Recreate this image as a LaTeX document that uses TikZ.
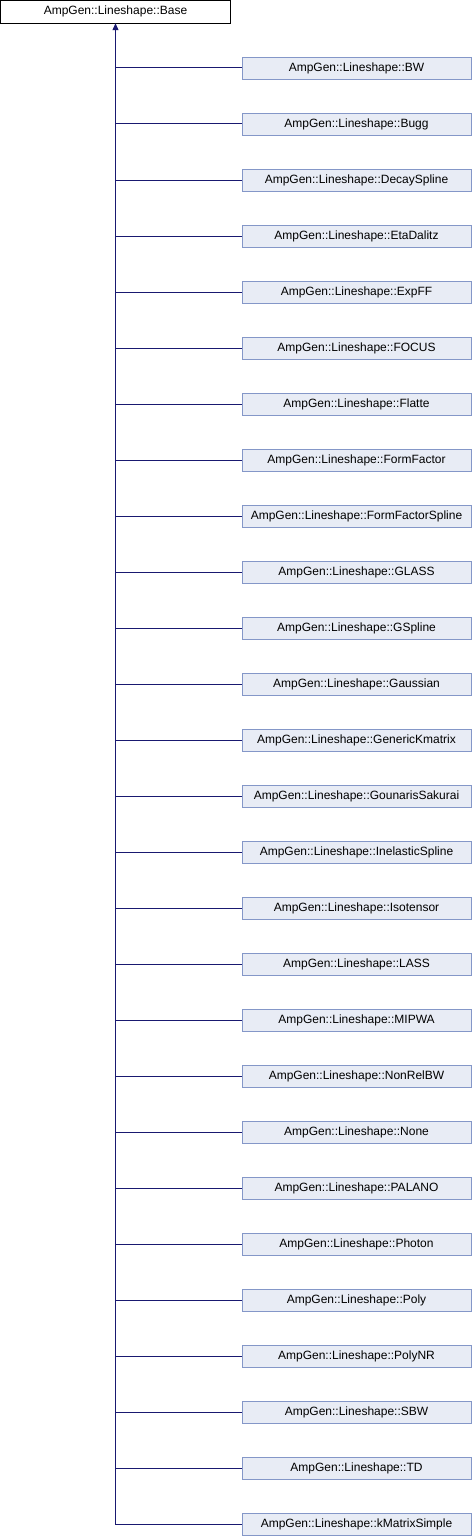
\documentclass[tikz,border=0pt]{standalone}
\usepackage{fontspec}
\setmainfont{Liberation Sans}
\usepackage{xcolor}
\usetikzlibrary{arrows.meta, positioning}

\definecolor{edgeblue}{RGB}{25,25,112}
\definecolor{boxfill}{RGB}{232,236,245}
\definecolor{boxline}{RGB}{132,151,200}

\begin{document}
\begin{tikzpicture}[x=1pt, y=-1pt, >={Triangle[length=7pt, width=6pt]},
    base-node/.style={rectangle, draw=black, fill=white, minimum width=230pt, minimum height=23pt,
                inner sep=0pt, font=\fontsize{12}{14}\selectfont},
    class-node/.style={rectangle, draw=boxline, fill=boxfill, minimum width=229.5pt, minimum height=22pt,
                inner sep=0pt, font=\fontsize{12}{14}\selectfont},
    inherit/.style={draw=edgeblue, line width=1pt}]
    \useasboundingbox (0,0) rectangle (472,1536);
    \node [base-node] (base) at (115.5,11.5) {AmpGen::Lineshape::Base};
    % derived classes
    \node [class-node] (bw) at (356.5,68) {AmpGen::Lineshape::BW};
    \node [class-node] (bugg) at (356.5,124) {AmpGen::Lineshape::Bugg};
    \node [class-node] (decayspline) at (356.5,180) {AmpGen::Lineshape::DecaySpline};
    \node [class-node] (etadalitz) at (356.5,236) {AmpGen::Lineshape::EtaDalitz};
    \node [class-node] (expff) at (356.5,292) {AmpGen::Lineshape::ExpFF};
    \node [class-node] (focus) at (356.5,348) {AmpGen::Lineshape::FOCUS};
    \node [class-node] (flatte) at (356.5,404) {AmpGen::Lineshape::Flatte};
    \node [class-node] (formfactor) at (356.5,460) {AmpGen::Lineshape::FormFactor};
    \node [class-node] (ffspline) at (356.5,516) {AmpGen::Lineshape::FormFactorSpline};
    \node [class-node] (glass) at (356.5,572) {AmpGen::Lineshape::GLASS};
    \node [class-node] (gspline) at (356.5,628) {AmpGen::Lineshape::GSpline};
    \node [class-node] (gaussian) at (356.5,684) {AmpGen::Lineshape::Gaussian};
    \node [class-node] (generickm) at (356.5,740) {AmpGen::Lineshape::GenericKmatrix};
    \node [class-node] (gounaris) at (356.5,796) {AmpGen::Lineshape::GounarisSakurai};
    \node [class-node] (inelastic) at (356.5,852) {AmpGen::Lineshape::InelasticSpline};
    \node [class-node] (isotensor) at (356.5,908) {AmpGen::Lineshape::Isotensor};
    \node [class-node] (lass) at (356.5,964) {AmpGen::Lineshape::LASS};
    \node [class-node] (mipwa) at (356.5,1020) {AmpGen::Lineshape::MIPWA};
    \node [class-node] (nonrelbw) at (356.5,1076) {AmpGen::Lineshape::NonRelBW};
    \node [class-node] (none) at (356.5,1132) {AmpGen::Lineshape::None};
    \node [class-node] (palano) at (356.5,1188) {AmpGen::Lineshape::PALANO};
    \node [class-node] (photon) at (356.5,1244) {AmpGen::Lineshape::Photon};
    \node [class-node] (poly) at (356.5,1300) {AmpGen::Lineshape::Poly};
    \node [class-node] (polynr) at (356.5,1356) {AmpGen::Lineshape::PolyNR};
    \node [class-node] (sbw) at (356.5,1412) {AmpGen::Lineshape::SBW};
    \node [class-node] (td) at (356.5,1468) {AmpGen::Lineshape::TD};
    \node [class-node] (kmsimple) at (356.5,1524) {AmpGen::Lineshape::kMatrixSimple};
    % inheritance lines
    \draw [inherit, ->] (kmsimple.west) -| (base.south);
    \draw [inherit] (bw.west) -- (bw.west -| base.south);
    \draw [inherit] (bugg.west) -- (bugg.west -| base.south);
    \draw [inherit] (decayspline.west) -- (decayspline.west -| base.south);
    \draw [inherit] (etadalitz.west) -- (etadalitz.west -| base.south);
    \draw [inherit] (expff.west) -- (expff.west -| base.south);
    \draw [inherit] (focus.west) -- (focus.west -| base.south);
    \draw [inherit] (flatte.west) -- (flatte.west -| base.south);
    \draw [inherit] (formfactor.west) -- (formfactor.west -| base.south);
    \draw [inherit] (ffspline.west) -- (ffspline.west -| base.south);
    \draw [inherit] (glass.west) -- (glass.west -| base.south);
    \draw [inherit] (gspline.west) -- (gspline.west -| base.south);
    \draw [inherit] (gaussian.west) -- (gaussian.west -| base.south);
    \draw [inherit] (generickm.west) -- (generickm.west -| base.south);
    \draw [inherit] (gounaris.west) -- (gounaris.west -| base.south);
    \draw [inherit] (inelastic.west) -- (inelastic.west -| base.south);
    \draw [inherit] (isotensor.west) -- (isotensor.west -| base.south);
    \draw [inherit] (lass.west) -- (lass.west -| base.south);
    \draw [inherit] (mipwa.west) -- (mipwa.west -| base.south);
    \draw [inherit] (nonrelbw.west) -- (nonrelbw.west -| base.south);
    \draw [inherit] (none.west) -- (none.west -| base.south);
    \draw [inherit] (palano.west) -- (palano.west -| base.south);
    \draw [inherit] (photon.west) -- (photon.west -| base.south);
    \draw [inherit] (poly.west) -- (poly.west -| base.south);
    \draw [inherit] (polynr.west) -- (polynr.west -| base.south);
    \draw [inherit] (sbw.west) -- (sbw.west -| base.south);
    \draw [inherit] (td.west) -- (td.west -| base.south);
\end{tikzpicture}
\end{document}
